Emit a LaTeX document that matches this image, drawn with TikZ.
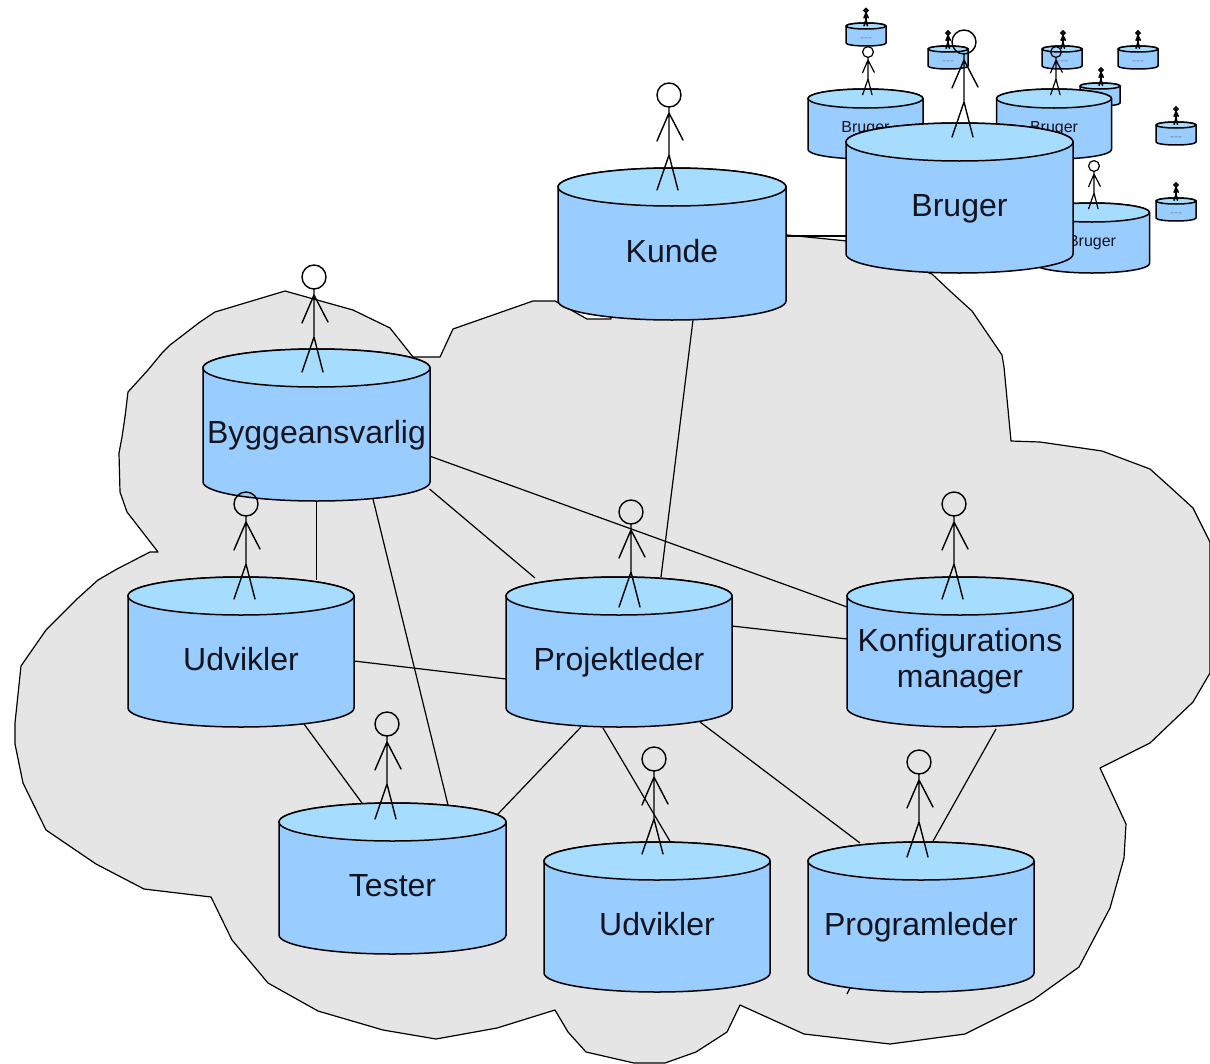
\documentclass[tikz,border=0pt]{standalone}
\usepackage{fontspec}
\setmainfont{Liberation Sans}
\pgfdeclarelayer{bg}
\pgfsetlayers{bg,main}
\definecolor{body}{HTML}{99CCFF}
\definecolor{lid}{HTML}{A6DDFF}
\definecolor{cloud}{HTML}{E5E5E5}
\definecolor{ink}{HTML}{14141E}
\definecolor{tinyink}{HTML}{7C8CA6}
\tikzset{
  outline/.style={draw=black,line width=1.5pt,line join=round},
  conn/.style={draw=black,line width=1.2pt},
  rel/.style 2 args={xshift=#1pt,yshift=-#2pt},
  bigtext/.style={font=\fontsize{32}{37}\selectfont,text=ink,inner sep=0pt,text height=44pt,text depth=8pt},
  smalltext/.style={font=\fontsize{16}{19}\selectfont,text=ink,inner sep=0pt,text height=21pt,text depth=4pt},
  tinytext/.style={font=\fontsize{12}{14}\selectfont,text=tinyink,inner sep=0pt,text height=15pt,text depth=1pt},
  stickline/.style={draw=black,line width=#1,line cap=round},
}
% name, cx, cy, w, h, ry, text style, text
\newcommand{\cylnode}[8]{%
  \begin{scope}
  \pgfmathsetmacro{\lft}{#2-#4/2}\pgfmathsetmacro{\rgt}{#2+#4/2}
  \pgfmathsetmacro{\ytop}{#3-#5/2+#6}\pgfmathsetmacro{\ybot}{#3+#5/2-#6}
  \pgfmathsetmacro{\kx}{0.5523*#4/2}\pgfmathsetmacro{\ky}{0.5523*#6}
  \pgfmathsetmacro{\cl}{#2-\kx}\pgfmathsetmacro{\cr}{#2+\kx}
  \pgfmathsetmacro{\yT}{\ytop-#6}\pgfmathsetmacro{\yU}{\ytop+#6}\pgfmathsetmacro{\yB}{\ybot+#6}
  \pgfmathsetmacro{\kTu}{\ytop-\ky}\pgfmathsetmacro{\kTd}{\ytop+\ky}\pgfmathsetmacro{\kBd}{\ybot+\ky}
  \path[fill=body,outline] (\lft,\ytop) -- (\lft,\ybot)
    .. controls (\lft,\kBd) and (\cl,\yB) .. (#2,\yB)
    .. controls (\cr,\yB) and (\rgt,\kBd) .. (\rgt,\ybot) -- (\rgt,\ytop)
    .. controls (\rgt,\kTu) and (\cr,\yT) .. (#2,\yT)
    .. controls (\cl,\yT) and (\lft,\kTu) .. (\lft,\ytop) -- cycle;
  \path[fill=lid,outline] (\lft,\ytop)
    .. controls (\lft,\kTd) and (\cl,\yU) .. (#2,\yU)
    .. controls (\cr,\yU) and (\rgt,\kTd) .. (\rgt,\ytop)
    .. controls (\rgt,\kTu) and (\cr,\yT) .. (#2,\yT)
    .. controls (\cl,\yT) and (\lft,\kTu) .. (\lft,\ytop) -- cycle;
  \end{scope}
  \node[#7,align=center] (#1) at (#2,#3) {#8};
}
% head x, head y, scale, line width
\newcommand{\stick}[4]{%
  \begin{scope}[shift={(#1,#2)},scale=#3]
  \draw[stickline=#4] (0,0) circle [radius=12];
  \draw[stickline=#4] (0,12) -- (0,60) (0,18) -- (-12,46) (0,18) -- (14,45)
     (0,60) -- (-12,95) (0,60) -- (9,95);
  \end{scope}
}
\begin{document}
\begin{tikzpicture}[x=1pt,y=-1pt]
\useasboundingbox (0,0) rectangle (1210,1063);

% tiny figures and cylinders
\cylnode{ta}{866}{34.5}{40}{23}{3}{tinytext}{-{}-{}-}
\cylnode{tb}{948}{57.5}{40}{23}{3}{tinytext}{-{}-{}-}
\cylnode{tc}{1062}{57.5}{40}{23}{3}{tinytext}{-{}-{}-}
\cylnode{td}{1100}{94.5}{40}{23}{3}{tinytext}{-{}-{}-}
\cylnode{te}{1138}{57.5}{40}{23}{3}{tinytext}{-{}-{}-}
\cylnode{tf}{1176}{133.5}{40}{23}{3}{tinytext}{-{}-{}-}
\cylnode{tg}{1176}{209.5}{40}{23}{3}{tinytext}{-{}-{}-}
\stick{866}{10.5}{0.16}{1.7pt}
\stick{948}{33}{0.16}{1.7pt}
\stick{1063}{33}{0.16}{1.7pt}
\stick{1101}{70}{0.16}{1.7pt}
\stick{1138}{33}{0.16}{1.7pt}
\stick{1176}{109}{0.16}{1.7pt}
\stick{1176}{185}{0.16}{1.7pt}

% small Bruger group
\cylnode{sa}{865.5}{124}{115}{70}{9.5}{smalltext}{Bruger}
\cylnode{sb}{1054}{124}{115}{70}{9.5}{smalltext}{Bruger}
\cylnode{sc}{1092}{238}{115}{70}{9.5}{smalltext}{Bruger}
\stick{868}{52}{0.45}{1.2pt}
\stick{1056}{52}{0.45}{1.2pt}
\stick{1094}{166}{0.45}{1.2pt}

% main cylinders
\cylnode{brug}{959.5}{198}{227}{150}{19}{bigtext}{Bruger}
\cylnode{kunde}{672}{244}{228}{152}{19}{bigtext}{Kunde}
\cylnode{byg}{316.5}{425}{227}{152}{19}{bigtext}{Byggeansvarlig}
\cylnode{udva}{241}{652}{226}{150}{19}{bigtext}{Udvikler}
\cylnode{proj}{619}{652}{226}{150}{19}{bigtext}{Projektleder}
\cylnode{konf}{960}{652}{226}{150}{19}{font=\fontsize{32}{36.5}\selectfont,text=ink,inner sep=0pt,yshift=-9pt}{Konfigurations\\manager}
\cylnode{test}{392.5}{878.5}{227}{151}{19}{bigtext}{Tester}
\cylnode{udvb}{657}{917}{226}{150}{19}{bigtext}{Udvikler}
\cylnode{prog}{921}{917}{226}{150}{19}{bigtext}{Programleder}

% figures
\stick{964}{42}{1}{1.4pt}
\stick{669}{95}{1}{1.4pt}
\stick{314}{277}{1}{1.4pt}
\stick{246}{504}{1}{1.4pt}
\stick{631}{512}{1}{1.4pt}
\stick{954}{504}{1}{1.4pt}
\stick{387}{724}{1}{1.4pt}
\stick{654}{759}{1}{1.4pt}
\stick{919}{762}{1}{1.4pt}

\begin{pgfonlayer}{bg}
\path[fill=cloud,draw=black,line width=1.2pt,line join=round]
  (787,235) -- (817,238) -- (847,241) -- (932,274) -- (950,291) -- (972,311)
  -- (1002,355) -- (1004,367) -- (1011,441) -- (1040,442) -- (1102,451) -- (1150,469)
  -- (1170,487) -- (1193,508) -- (1210,542) -- (1210,673) -- (1193,702) -- (1172,722)
  -- (1150,743) -- (1100,768)
  -- (1126,824) -- (1124,858) -- (1110,908) -- (1079,967) -- (1033,1000) -- (965,1034)
  -- (890,1044) -- (804,1034) -- (740,1005) -- (727,1032) -- (696,1052) -- (665,1063)
  -- (634,1063) -- (586,1052) -- (568,1032) -- (555,1010) -- (497,1028) -- (436,1039)
  -- (383,1030) -- (318,1011) -- (268,983) -- (232,940) -- (211,897) -- (144,889)
  -- (96,864) -- (46,830) -- (23,783) -- (15,744) -- (15,723) -- (21,666) -- (46,630)
  -- (77,599) -- (98,580) -- (117,569) -- (150,552) -- (158,552) -- (127,512)
  -- (120,492) -- (119,453) -- (122,437) -- (125,417) -- (128,392) -- (148,370)
  -- (162,353) -- (170,345) -- (200,322) -- (215,312) -- (285,291) -- (353,310) -- (390,328)
  -- (413,357) -- (440,357) -- (453,329) -- (533,301) -- (555,301) -- (587,319)
  -- (611,319) -- (611,315) -- (787,235) -- cycle;
\draw[conn] ([rel={21}{76}]kunde.center) -- ([rel={42}{-75}]proj.center);
\draw[conn] ([rel={113}{31}]byg.center) -- ([rel={-113}{-54}]konf.center);
\draw[conn] ([rel={113}{64}]byg.center) -- ([rel={-84}{-74}]proj.center);
\draw[conn] ([rel={0}{76}]byg.center) -- ([rel={75.5}{-72}]udva.center);
\draw[conn] ([rel={56.5}{74}]byg.center) -- ([rel={55.5}{-73.5}]test.center);
\draw[conn] ([rel={113}{9}]udva.center) -- ([rel={-113}{27}]proj.center);
\draw[conn] ([rel={63}{72}]udva.center) -- ([rel={-30.5}{-75.5}]test.center);
\draw[conn] ([rel={113}{-26}]proj.center) -- ([rel={-113}{-22}]konf.center);
\draw[conn] ([rel={-38}{75}]proj.center) -- ([rel={104.5}{-63.5}]test.center);
\draw[conn] ([rel={-16}{76}]proj.center) -- ([rel={14}{-74}]udvb.center);
\draw[conn] ([rel={81}{70}]proj.center) -- ([rel={-61}{-74}]prog.center);
\draw[conn] ([rel={36}{68}]konf.center) -- ([rel={11}{-74}]prog.center);
\draw[conn] ([rel={114}{-8}]kunde.center) -- ([rel={-113}{38}]brug.center);
\draw[conn] ([rel={-71}{71}]prog.center) -- ([rel={-74}{77}]prog.center);
\end{pgfonlayer}
\end{tikzpicture}
\end{document}
